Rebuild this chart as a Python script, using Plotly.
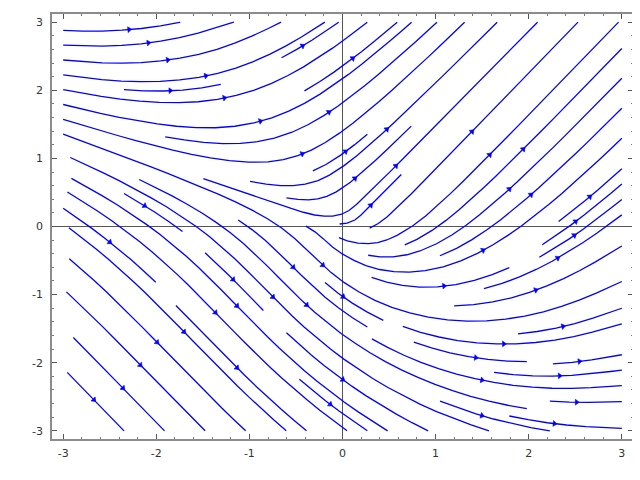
import math
import numpy as np
import plotly.graph_objects as go

# ---- chart definition (Sage streamline_plot of the slope field dy/dx = (x+y)/sqrt(x^2+y^2)) ----
X_RANGE = (-3.0, 3.0)
Y_RANGE = (-3.0, 3.0)
PLOT_POINTS = 20
DENSITY = 1.0
MIN_LENGTH = 0.1
MAX_LENGTH = 2.0
TICK_VALUES = [-3, -2, -1, 0, 1, 2, 3]
TICK_LABELS = ["-3", "-2", "-1", "0", "1", "2", "3"]
AXIS_VIEW = (-3.12, 3.12)


def slope(x, y):
    return (x + y) / np.sqrt(x ** 2 + y ** 2)


# ---- vector field on the sample grid ----
xs = np.linspace(X_RANGE[0], X_RANGE[1], PLOT_POINTS)
ys = np.linspace(Y_RANGE[0], Y_RANGE[1], PLOT_POINTS)
XX, YY = np.meshgrid(xs, ys)
F = slope(XX, YY)
U = 1.0 / np.sqrt(F ** 2 + 1.0)
V = F * U

# ---- streamline integration (classic matplotlib 1.x streamplot scheme) ----
nx, ny = len(xs), len(ys)
dxg, dyg = xs[1] - xs[0], ys[1] - ys[0]
width, height = xs[-1] - xs[0], ys[-1] - ys[0]
mnx = mny = int(30 * DENSITY)
mask = np.zeros((mny, mnx))
x_g2m = (mnx - 1) / nx
y_g2m = (mny - 1) / ny
state = {"cur": None, "traj": []}


class Terminate(Exception):
    pass


class InvalidIndex(Exception):
    pass


def within(xi, yi):
    return 0 <= xi <= nx - 1 and 0 <= yi <= ny - 1


def g2m(xi, yi):
    return int(xi * x_g2m + 0.5), int(yi * y_g2m + 0.5)


def mask_update(xm, ym):
    if state["cur"] != (xm, ym):
        if mask[ym, xm] == 0:
            state["traj"].append((ym, xm))
            mask[ym, xm] = 1
            state["cur"] = (xm, ym)
        else:
            raise InvalidIndex


def start_traj(xg, yg):
    state["traj"] = []
    mask_update(*g2m(xg, yg))


def reset_start(xg, yg):
    state["cur"] = g2m(xg, yg)


def update_traj(xg, yg):
    if not within(xg, yg):
        raise InvalidIndex
    mask_update(*g2m(xg, yg))


def undo_traj():
    for t in state["traj"]:
        mask[t] = 0


Ug = U * nx / width
Vg = V * ny / height
speed = np.sqrt((Ug / nx) ** 2 + (Vg / ny) ** 2)


def interp(a, xi, yi):
    Ny, Nx = a.shape
    x = int(xi)
    y = int(yi)
    xn = x if x == Nx - 2 else x + 1
    yn = y if y == Ny - 2 else y + 1
    a00 = a[y, x]
    a01 = a[y, xn]
    a10 = a[yn, x]
    a11 = a[yn, xn]
    xt = xi - x
    yt = yi - y
    a0 = a00 * (1 - xt) + a01 * xt
    a1 = a10 * (1 - xt) + a11 * xt
    return a0 * (1 - yt) + a1 * yt


def forward(xi, yi):
    ds_dt = interp(speed, xi, yi)
    if ds_dt == 0 or not np.isfinite(ds_dt):
        raise Terminate
    dt_ds = 1.0 / ds_dt
    return interp(Ug, xi, yi) * dt_ds, interp(Vg, xi, yi) * dt_ds


def backward(xi, yi):
    a, b = forward(xi, yi)
    return -a, -b


def euler_step(traj, f):
    xi, yi = traj[-1]
    cx, cy = f(xi, yi)
    if cx == 0:
        dsx = np.inf
    elif cx < 0:
        dsx = xi / -cx
    else:
        dsx = (nx - 1 - xi) / cx
    if cy == 0:
        dsy = np.inf
    elif cy < 0:
        dsy = yi / -cy
    else:
        dsy = (ny - 1 - yi) / cy
    ds = min(dsx, dsy)
    traj.append((xi + cx * ds, yi + cy * ds))
    return ds, traj


def rk12(x0, y0, f):
    maxerror = 0.003
    maxds = min(1.0 / mnx, 1.0 / mny, 0.1)
    ds = maxds
    stotal = 0.0
    xi, yi = x0, y0
    traj = []
    while within(xi, yi):
        traj.append((xi, yi))
        try:
            k1x, k1y = f(xi, yi)
            k2x, k2y = f(xi + ds * k1x, yi + ds * k1y)
        except IndexError:
            try:
                d, traj = euler_step(traj, f)
                stotal += d
            except (IndexError, Terminate):
                pass
            break
        except Terminate:
            break
        dx1, dy1 = ds * k1x, ds * k1y
        dx2, dy2 = ds * 0.5 * (k1x + k2x), ds * 0.5 * (k1y + k2y)
        error = math.sqrt(((dx2 - dx1) / nx) ** 2 + ((dy2 - dy1) / ny) ** 2)
        if error < maxerror:
            xi += dx2
            yi += dy2
            try:
                update_traj(xi, yi)
            except InvalidIndex:
                break
            if stotal + ds > MAX_LENGTH:
                break
            stotal += ds
        if error == 0:
            ds = maxds
        else:
            ds = min(maxds, 0.85 * ds * (maxerror / error) ** 0.5)
    return stotal, traj


def integrate(x0, y0):
    try:
        start_traj(x0, y0)
    except InvalidIndex:
        return None
    sf, tf = rk12(x0, y0, forward)
    reset_start(x0, y0)
    sb, tb = rk12(x0, y0, backward)
    stotal = sf + sb
    pts = tb[::-1] + tf[1:]
    if stotal > MIN_LENGTH and len(pts) > 1:
        return np.array(pts)
    undo_traj()
    return None


def starting_points(shape):
    sny, snx = shape
    xfirst, yfirst = 0, 1
    xlast, ylast = snx - 1, sny - 1
    x, y = 0, 0
    direction = "right"
    for _ in range(snx * sny):
        yield x, y
        if direction == "right":
            x += 1
            if x >= xlast:
                xlast -= 1
                direction = "up"
        elif direction == "up":
            y += 1
            if y >= ylast:
                ylast -= 1
                direction = "left"
        elif direction == "left":
            x -= 1
            if x <= xfirst:
                xfirst += 1
                direction = "down"
        elif direction == "down":
            y -= 1
            if y <= yfirst:
                yfirst += 1
                direction = "right"


trajectories = []
for xm, ym in starting_points(mask.shape):
    if mask[ym, xm] == 0:
        t = integrate(xm / x_g2m, ym / y_g2m)
        if t is not None:
            trajectories.append(t)

# ---- layout geometry (page body has an 8px margin) ----
W, H = 632, 472
ML, MR, MT, MB = 44, 7, 6, 41
px_x = (W - ML - MR) / (AXIS_VIEW[1] - AXIS_VIEW[0])
px_y = (H - MT - MB) / (AXIS_VIEW[1] - AXIS_VIEW[0])

line_x, line_y = [], []
arr_x, arr_y, arr_ang = [], [], []
for t in trajectories:
    tx = t[:, 0] * dxg + xs[0]
    ty = t[:, 1] * dyg + ys[0]
    line_x += list(tx) + [None]
    line_y += list(ty) + [None]
    s = np.cumsum(np.hypot(np.diff(tx), np.diff(ty)))
    n = int(np.searchsorted(s, s[-1] / 2.0))
    tailx, taily = tx[n], ty[n]
    headx, heady = np.mean(tx[n:n + 2]), np.mean(ty[n:n + 2])
    dpx = (headx - tailx) * px_x
    dpy = (heady - taily) * px_y
    L = math.hypot(dpx, dpy)
    if L == 0:
        continue
    ux, uy = dpx / L, dpy / L
    back = 2.5
    arr_x.append(headx - ux * back / px_x)
    arr_y.append(heady - uy * back / px_y)
    arr_ang.append(90 - math.degrees(math.atan2(dpy, dpx)))

fig = go.Figure()
fig.add_trace(go.Scatter(x=line_x, y=line_y, mode="lines",
                         line=dict(color="#0000ff", width=1.3),
                         hoverinfo="skip", showlegend=False))
fig.add_trace(go.Scatter(x=arr_x, y=arr_y, mode="markers",
                         marker=dict(symbol="triangle-up", size=5, angle=arr_ang,
                                     color="#0000ff", line=dict(width=0.6, color="#0000ff")),
                         hoverinfo="skip", showlegend=False))

axis_common = dict(
    range=list(AXIS_VIEW), showgrid=False, zeroline=True, zerolinecolor="#555555",
    zerolinewidth=1, showline=True, linecolor="#8c8c8c", linewidth=1.8, mirror="ticks",
    ticks="inside", ticklen=5, tickwidth=1, tickcolor="#555555", automargin=False,
    tickvals=TICK_VALUES, ticktext=TICK_LABELS,
    tickfont=dict(family="DejaVu Sans", size=11, color="#333333"),
    minor=dict(dtick=0.2, ticks="inside", ticklen=2.5, tickcolor="#777777", tickwidth=1, showgrid=False),
)
fig.update_xaxes(**axis_common, ticklabelstandoff=3)
fig.update_yaxes(**axis_common, ticklabelstandoff=5)
fig.update_layout(width=W, height=H, margin=dict(l=ML, r=MR, t=MT, b=MB, autoexpand=False),
                  paper_bgcolor="white", plot_bgcolor="white", showlegend=False)
fig.write_html("out.html")
